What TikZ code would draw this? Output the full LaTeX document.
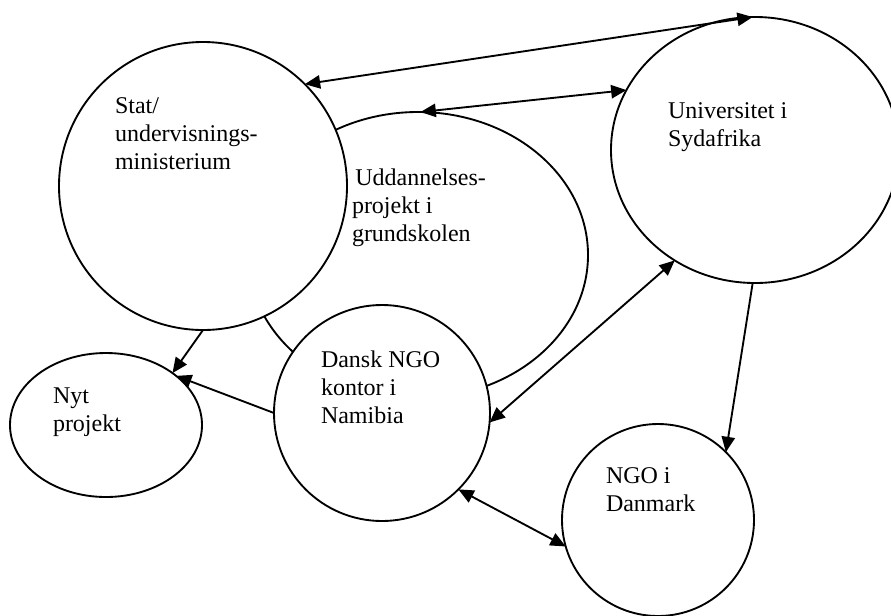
\documentclass[tikz,border=0pt]{standalone}
\usepackage{fontspec}
\setmainfont{Liberation Serif}
\usetikzlibrary{arrows.meta,shapes.geometric}
\begin{document}
\begin{tikzpicture}[x=0.75pt,y=-0.75pt,
  shp/.style={draw, line width=1.4pt, fill=white, inner sep=0pt, outer sep=0pt},
  circ/.style={shp, circle, minimum size=#1*0.75pt},
  ell/.style 2 args={shp, ellipse, minimum width=#1*0.75pt, minimum height=#2*0.75pt},
  lbl/.style={anchor=base west, inner sep=0pt, outer sep=0pt, font=\fontsize{18}{21}\selectfont},
  con/.style={line width=1.4pt, -{Triangle[length=11.5pt,width=10pt]}},
  bicon/.style={line width=1.4pt, {Triangle[length=11.5pt,width=10pt]}-{Triangle[length=11.5pt,width=10pt]}}
]
\useasboundingbox (0,0) rectangle (891,615);
\clip (0,0) rectangle (891,615);
% shapes
\node[ell={340}{286}] (udd) at (418,255) {};
\node[circ=288] (stat) at (203,186) {};
\node[circ=216] (dansk) at (382,413) {};
\node[ell={288}{266}] (univ) at (755,150) {};
\node[ell={192}{144}] (nyt) at (106,425) {};
\node[circ=192] (ngodk) at (658,520) {};
% connectors
\draw[bicon] (stat.45) -- (univ.91);
\draw[bicon] (udd.89) -- (univ.155);
\draw[bicon] (univ.234) -- (dansk.355);
\draw[con] (univ.269) -- (ngodk.45);
\draw[bicon] (dansk.315) -- (ngodk.196);
\draw[con] (stat.270) -- (nyt.38);
\draw[con] (dansk.180) -- (nyt.35);
% labels
\node[lbl] (tstat) at (115,113) {\begin{tabular}[t]{@{}l@{}}Stat/\\undervisnings-\\ministerium\end{tabular}};
\node[lbl] (tudd) at (352,185) {\begin{tabular}[t]{@{}l@{}}\hspace*{2.5pt}Uddannelses-\\projekt i\\grundskolen\end{tabular}};
\node[lbl] (tuniv) at (668,118) {\begin{tabular}[t]{@{}l@{}}Universitet i\\Sydafrika\end{tabular}};
\node[lbl] (tdansk) at (321,367) {\begin{tabular}[t]{@{}l@{}}Dansk NGO\\kontor i\\Namibia\end{tabular}};
\node[lbl] (tnyt) at (53,403) {\begin{tabular}[t]{@{}l@{}}Nyt\\projekt\end{tabular}};
\node[lbl] (tngo) at (606,483) {\begin{tabular}[t]{@{}l@{}}NGO i\\Danmark\end{tabular}};
\end{tikzpicture}
\end{document}
